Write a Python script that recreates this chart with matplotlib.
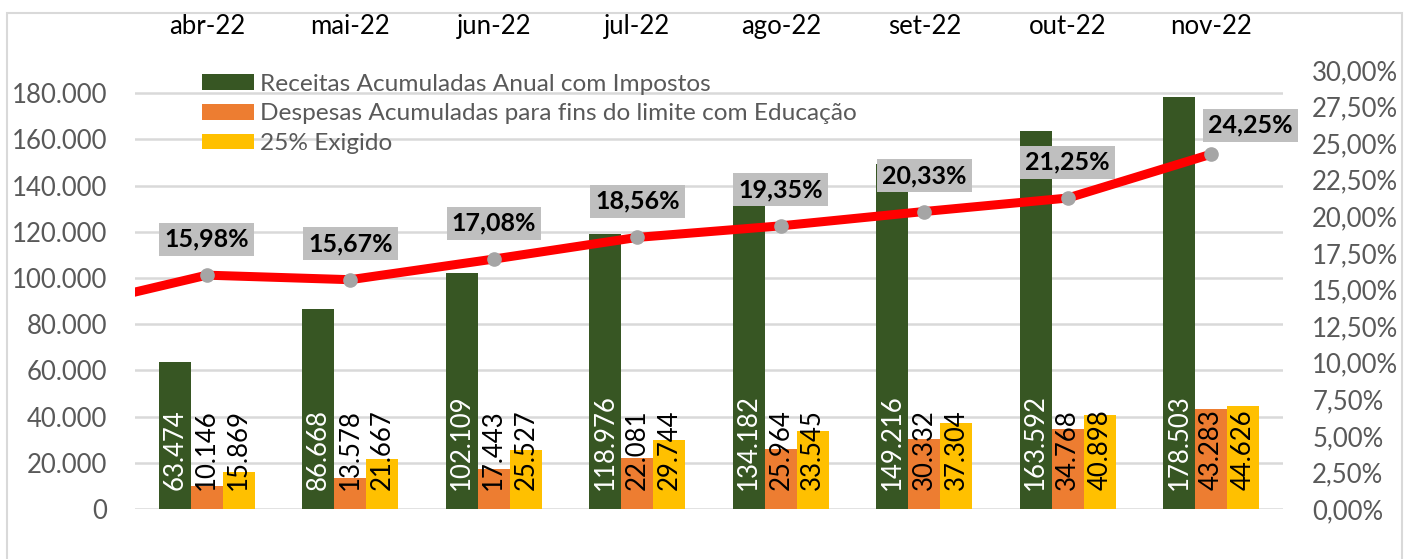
import matplotlib
matplotlib.use("Agg")
import matplotlib.pyplot as plt
from matplotlib.patches import Rectangle
from matplotlib.ticker import FuncFormatter
import numpy as np

plt.rcParams['font.family'] = ['Lato', 'DejaVu Sans']

meses = ['abr-22', 'mai-22', 'jun-22', 'jul-22', 'ago-22', 'set-22', 'out-22', 'nov-22']
receitas = [63474, 86668, 102109, 118976, 134182, 149216, 163592, 178503]
despesas = [10146, 13578, 17443, 22081, 25964, 30332, 34768, 43283]
exigido = [15869, 21667, 25527, 29744, 33545, 37304, 40898, 44626]
percentual = [15.98, 15.67, 17.08, 18.56, 19.35, 20.33, 21.25, 24.25]
percentual_mar = 13.67  # mes anterior, fora da area visivel

VERDE = '#375623'
LARANJA = '#ED7D31'
AMARELO = '#FFC000'
CINZA_TXT = '#595959'
GRADE = '#D9D9D9'


def milhar(v):
    return f"{int(v):,}".replace(',', '.')


fig = plt.figure(figsize=(14.13, 5.59), dpi=100)
# moldura do grafico
fig.patches.append(Rectangle((7 / 1413, -0.1), 1395 / 1413, 546 / 559 + 0.1,
                             transform=fig.transFigure, fill=False,
                             edgecolor=GRADE, linewidth=1.5))

ax = fig.add_axes([135 / 1413, 50 / 559, 1148 / 1413, 439 / 559])
x = np.arange(len(meses))
w = 0.223

b1 = ax.bar(x - w, receitas, w, color=VERDE, label='Receitas Acumuladas Anual com Impostos', zorder=2)
b2 = ax.bar(x, despesas, w, color=LARANJA, label='Despesas Acumuladas para fins do limite com Educação', zorder=2)
b3 = ax.bar(x + w, exigido, w, color=AMARELO, label='25% Exigido', zorder=2)

for bars, vals, cor in [(b1, receitas, 'white'), (b2, despesas, 'black'), (b3, exigido, 'black')]:
    for rect, v in zip(bars, vals):
        ax.annotate(milhar(v), (rect.get_x() + rect.get_width() / 2, 0),
                    xytext=(0, 19), textcoords='offset pixels',
                    rotation=90, ha='center', va='bottom',
                    fontsize=18.5, color=cor, zorder=3)

ax.set_xlim(-0.5, len(meses) - 0.5)
ax.set_ylim(0, 190000)
ax.set_yticks(np.arange(0, 180001, 20000))
ax.yaxis.set_major_formatter(FuncFormatter(lambda v, p: milhar(v)))
ax.yaxis.grid(True, color=GRADE, linewidth=1.8, zorder=0)
ax.set_axisbelow(True)
ax.set_xticks(x)
ax.set_xticklabels(meses)
ax.xaxis.tick_top()
ax.tick_params(axis='x', length=0, pad=22, labelsize=18.5, labelcolor='black')
ax.tick_params(axis='y', length=0, pad=20, labelsize=18.5, labelcolor=CINZA_TXT)
for s in ax.spines.values():
    s.set_visible(False)

leg = ax.legend(loc='upper left', bbox_to_anchor=(0.05, 1.014), frameon=False,
                fontsize=17.6, labelcolor=CINZA_TXT, handlelength=2.1,
                handleheight=0.6, handletextpad=0.25, labelspacing=0.36,
                borderaxespad=0)

ax2 = ax.twinx()
xl = np.concatenate([[-1], x])
yl = np.concatenate([[percentual_mar], percentual]) / 100
ax2.plot(xl, yl, color='#FF0000', linewidth=6.5, solid_capstyle='butt', zorder=3)
ax2.plot(x, np.array(percentual) / 100, linestyle='none', marker='o',
         markersize=9.5, color='#A5A5A5', zorder=4)
ax2.set_xlim(-0.5, len(meses) - 0.5)
ax2.set_ylim(0, 0.30)
ax2.set_yticks(np.arange(0, 0.3001, 0.025))
ax2.yaxis.set_major_formatter(FuncFormatter(lambda v, p: f"{v * 100:.2f}%".replace('.', ',')))
ax2.tick_params(axis='y', length=0, pad=21, labelsize=18.5, labelcolor=CINZA_TXT)
for s in ax2.spines.values():
    s.set_visible(False)

for i, p in enumerate(percentual):
    off = (39, 29) if i == len(percentual) - 1 else (0, 36)
    ax2.annotate(f"{p:.2f}%".replace('.', ','), (x[i], p / 100),
                 xytext=off, textcoords='offset pixels',
                 ha='center', va='center', fontsize=18, fontweight='bold',
                 color='black', zorder=5,
                 bbox=dict(boxstyle='square,pad=0.2', facecolor='#BFBFBF', edgecolor='none'))

fig.savefig('out.png', dpi=100)
